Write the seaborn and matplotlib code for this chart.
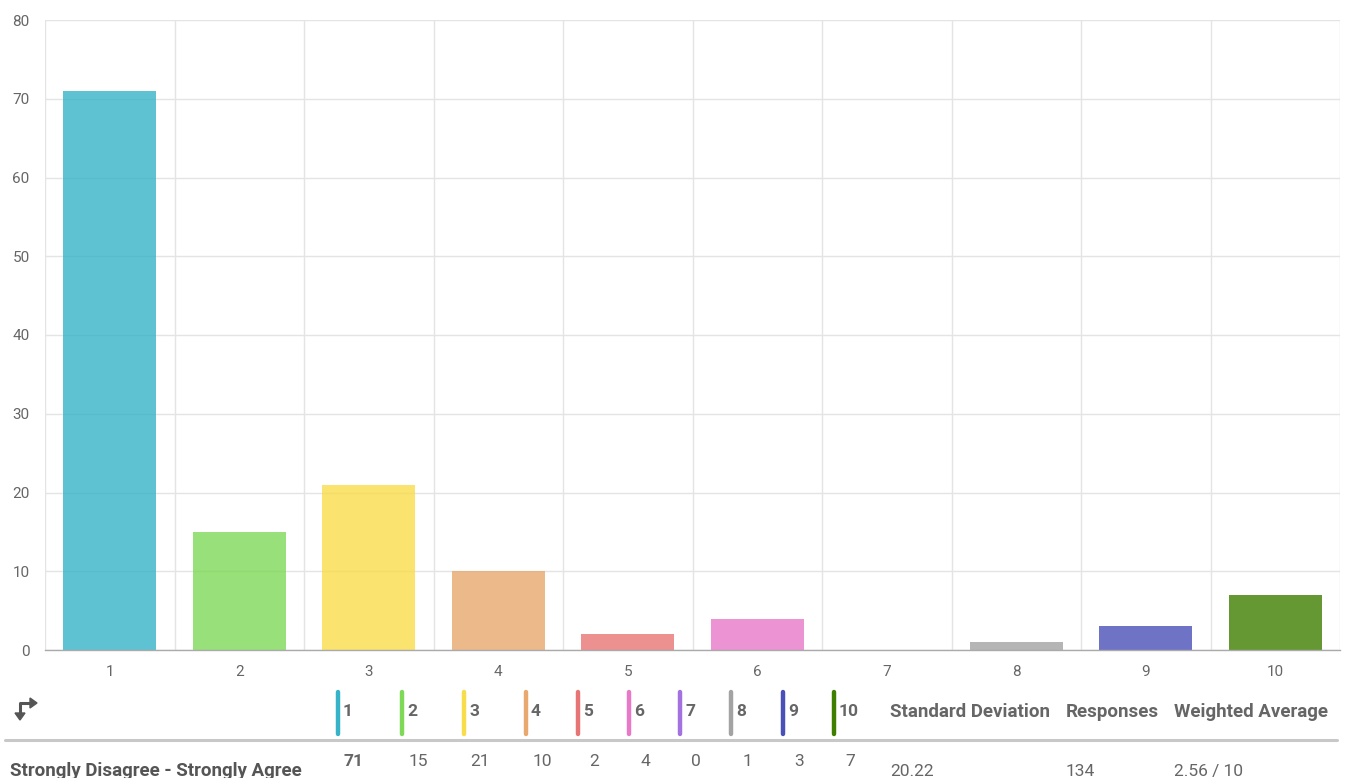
import numpy as np
import pandas as pd
import matplotlib.pyplot as plt
from matplotlib.lines import Line2D
from matplotlib.patches import Polygon
import seaborn as sns

# ── Data ─────────────────────────────────────────────────────
categories = ["1", "2", "3", "4", "5", "6", "7", "8", "9", "10"]
counts = [71, 15, 21, 10, 2, 4, 0, 1, 3, 7]
colors = ["#36b3c9", "#7ed957", "#f9dc4a", "#e8a86e", "#e87575",
          "#e879c9", "#a472e0", "#a3a3a3", "#4b50b8", "#3f7f00"]
y_ticks = [0, 10, 20, 30, 40, 50, 60, 70, 80]
stat_headers = ["Standard Deviation", "Responses", "Weighted Average"]
stat_values = ["20.22", "134", "2.56 / 10"]
row_label = "Strongly Disagree - Strongly Agree"

# ── Style ────────────────────────────────────────────────────
sns.set_style("white")
plt.rcParams["font.family"] = ["Roboto", "DejaVu Sans"]
GREY_TXT = "#666666"
GRID = "#e4e4e4"

W, H = 1349, 778
fig = plt.figure(figsize=(W / 100, H / 100), dpi=100)


def px(x, y):
    return x / W, 1 - y / H


ax = fig.add_axes([45 / W, 1 - 650 / H, (1340 - 45) / W, (650 - 20) / H])
df = pd.DataFrame({"cat": categories, "n": counts})
sns.barplot(data=df, x="cat", y="n", hue="cat", palette=colors, legend=False,
            width=0.72, alpha=0.8, saturation=1, ax=ax, linewidth=0)

ax.set_ylim(0, 80)
ax.set_xlim(-0.5, len(categories) - 0.5)
ax.set_yticks(y_ticks)
ax.set_xticks(range(len(categories)))
ax.set_xticks(np.arange(-0.5, len(categories)), minor=True)
ax.set_xlabel("")
ax.set_ylabel("")

ax.grid(axis="y", color=GRID, linewidth=1)
ax.grid(axis="x", which="minor", color=GRID, linewidth=1)
ax.set_axisbelow(True)
for s in ["top", "right", "left"]:
    ax.spines[s].set_visible(False)
ax.spines["bottom"].set_color("#aaaaaa")
ax.spines["bottom"].set_linewidth(1)

ax.tick_params(axis="x", which="major", length=0, pad=11,
               labelsize=11, labelcolor=GREY_TXT)
ax.tick_params(axis="x", which="minor", length=13, color=GRID, width=1)
ax.tick_params(axis="y", length=11, color=GRID, width=1, pad=0,
               labelsize=11, labelcolor=GREY_TXT)

# ── Table below chart ────────────────────────────────────────
# swap icon
icon = "#555555"
fig.add_artist(Line2D([px(20, 0)[0], px(20, 0)[0], px(31, 0)[0]],
                      [px(0, 714)[1], px(0, 703)[1], px(0, 703)[1]],
                      color=icon, lw=2.2, solid_capstyle="butt"))
fig.add_artist(Polygon([px(15, 713), px(25, 713), px(20, 720)], closed=True,
                       color=icon, transform=fig.transFigure))
fig.add_artist(Polygon([px(30, 698), px(30, 708), px(37, 703)], closed=True,
                       color=icon, transform=fig.transFigure))

marker_x = [338, 402, 464, 526, 578, 629, 680, 731, 783, 834]
for mx, lab, c, v in zip(marker_x, categories, colors, counts):
    fig.add_artist(Line2D([px(mx, 0)[0]] * 2, [px(0, 692)[1], px(0, 734)[1]],
                          color=c, lw=3.2, solid_capstyle="round"))
    fig.text(*px(mx + 5, 712), lab, fontsize=12.5, fontweight="bold",
             color=GREY_TXT, va="center", ha="left")
    fig.text(*px(mx + 16, 762), str(v), fontsize=12.5,
             fontweight="bold" if v == max(counts) else "normal",
             color=GREY_TXT, va="center", ha="center")

header_x = [890, 1066, 1174]
for hx, h, v in zip(header_x, stat_headers, stat_values):
    fig.text(*px(hx, 712), h, fontsize=13.5, fontweight="bold",
             color=GREY_TXT, va="center", ha="left")
    fig.text(*px(hx, 776), v, fontsize=12.5, color=GREY_TXT,
             va="baseline", ha="left")

fig.text(*px(10, 776), row_label, fontsize=13.5, fontweight="bold",
         color="#555555", va="baseline", ha="left")

fig.add_artist(Line2D([px(5, 0)[0], px(1337, 0)[0]], [px(0, 740)[1]] * 2,
                      color="#c8c8c8", lw=2.2))

fig.savefig("out.png", dpi=100)
